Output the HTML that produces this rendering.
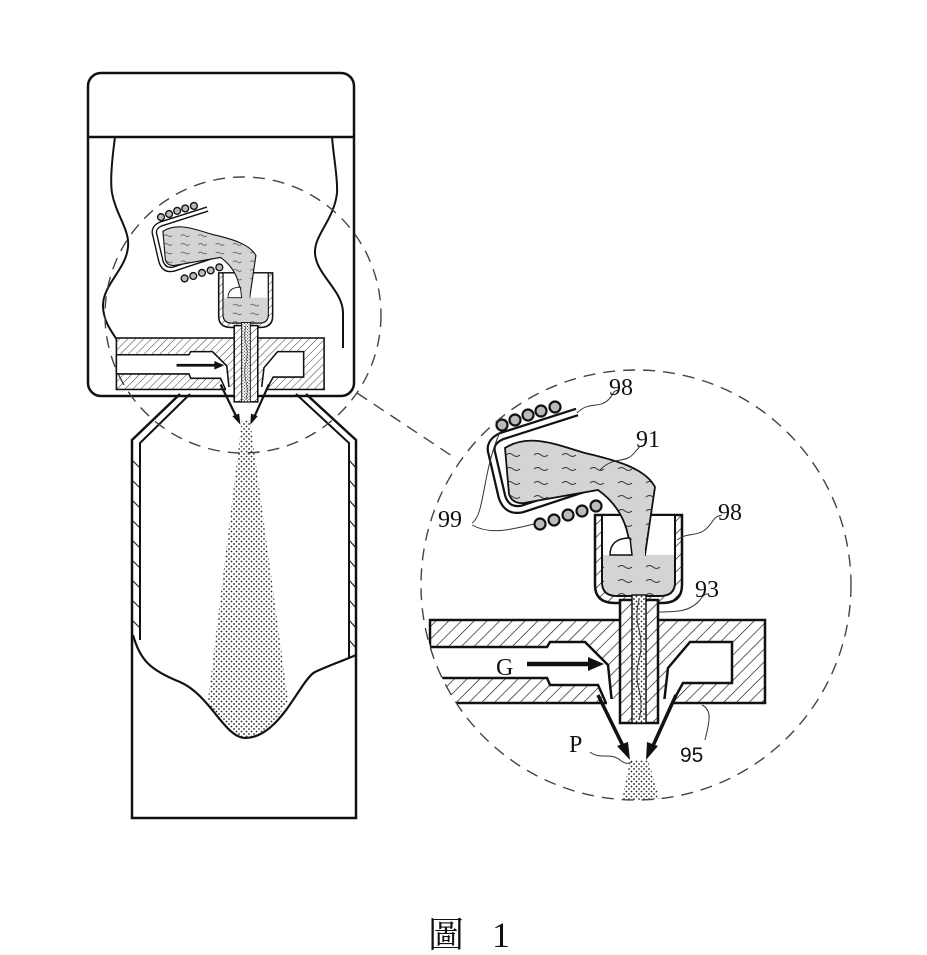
<!DOCTYPE html>
<html><head><meta charset="utf-8"><style>
html,body{margin:0;padding:0;background:#fff;}
svg{display:block;}
text{font-family:"Liberation Serif","Noto Serif CJK SC",serif;fill:#111;}
</style></head><body>
<svg width="927" height="955" viewBox="0 0 927 955" xmlns="http://www.w3.org/2000/svg">
<defs>
<pattern id="hatch" patternUnits="userSpaceOnUse" width="9" height="9" patternTransform="rotate(45)">
<rect width="9" height="9" fill="#fff"/><line x1="0" y1="0" x2="0" y2="9" stroke="#111" stroke-width="1.3"/>
</pattern>
<pattern id="dots" patternUnits="userSpaceOnUse" width="5" height="5">
<rect width="5" height="5" fill="#fff"/><circle cx="1.5" cy="1.5" r="0.9" fill="#222"/><circle cx="4" cy="4" r="0.9" fill="#222"/>
</pattern>
<pattern id="liq" patternUnits="userSpaceOnUse" width="28" height="14">
<rect width="28" height="14" fill="#d4d4d4"/>
<path d="M2 7 q3.5 -3 7 0 t7 0" fill="none" stroke="#333" stroke-width="0.9"/>
</pattern>
<clipPath id="bigc"><circle cx="636" cy="585" r="215"/></clipPath>
<g id="detail">
  <rect x="430" y="620" width="335" height="83" fill="url(#hatch)" stroke="#111" stroke-width="2.5"/>
  <polygon points="430,647 547,647 550,642 585,642 608,665 612,703 606,703 598,685 550,685 547,678 430,678" fill="#fff" stroke="#111" stroke-width="2.5"/>
  <polygon points="690,642 732,642 732,683 683,683 672,703 664,703 668,668" fill="#fff" stroke="#111" stroke-width="2.5"/>
  <rect x="607" y="699" width="64" height="8" fill="#fff"/>
  <path d="M595,515 V585 Q595,603 615,603 H662 Q682,603 682,585 V515 Z" fill="url(#hatch)" stroke="#111" stroke-width="2.5"/>
  <path d="M602,515 V582 Q602,596 617,596 H660 Q675,596 675,582 V515 Z" fill="#fff" stroke="#111" stroke-width="2"/>
  <path d="M603,555 H674 V582 Q674,595 660,595 H617 Q603,595 603,582 Z" fill="url(#liq)"/>
  <rect x="620" y="600" width="38" height="123" fill="url(#hatch)" stroke="#111" stroke-width="2.5"/>
  <rect x="632" y="595" width="14" height="128" fill="url(#dots)" stroke="#111" stroke-width="1.5"/>
  <path d="M639,600 q-4,15 0,30 t0,30 t0,30 t0,30" fill="none" stroke="#333" stroke-width="1"/>
  <path d="M577,412 L502,436 Q488,442 492,454 L502,497 Q507,512 522,509 L598,484" fill="none" stroke="#111" stroke-width="9"/>
  <path d="M577,412 L502,436 Q488,442 492,454 L502,497 Q507,512 522,509 L598,484" fill="none" stroke="#fff" stroke-width="4.5"/>
  <path d="M505,448 C530,432 560,446 585,453 C615,460 645,468 655,487 L645,555 L630,555 C630,530 622,507 598,490 L524,503 Q512,504 509,494 Z" fill="url(#liq)" stroke="#111" stroke-width="1.8"/>
  <rect x="630" y="548" width="15" height="10" fill="url(#liq)"/>
  <path d="M610,555 Q610,538 630,538 L632,555 Z" fill="#fff" stroke="#111" stroke-width="1.5"/>
  <g fill="#bbb" stroke="#111" stroke-width="2.2">
   <circle cx="502" cy="425" r="5.5"/><circle cx="515" cy="420" r="5.5"/><circle cx="528" cy="415" r="5.5"/><circle cx="541" cy="411" r="5.5"/><circle cx="555" cy="407" r="5.5"/>
   <circle cx="540" cy="524" r="5.5"/><circle cx="554" cy="520" r="5.5"/><circle cx="568" cy="515" r="5.5"/><circle cx="582" cy="511" r="5.5"/><circle cx="596" cy="506" r="5.5"/>
  </g>
  <line x1="598" y1="695" x2="624" y2="748" stroke="#111" stroke-width="3.5"/>
  <polygon points="630,760 617,746 628,742" fill="#111"/>
  <line x1="676" y1="695" x2="652" y2="748" stroke="#111" stroke-width="3.5"/>
  <polygon points="646,760 647,742 658,746" fill="#111"/>
  <line x1="527" y1="664" x2="590" y2="664" stroke="#111" stroke-width="4.5"/>
  <polygon points="604,664 588,657 588,671" fill="#111"/>
</g>
</defs>

<rect x="88" y="73" width="266" height="323" rx="13" fill="#fff" stroke="#111" stroke-width="2.5"/>
<line x1="88" y1="137" x2="354" y2="137" stroke="#111" stroke-width="2.5"/>
<path d="M115,137 C112,160 110,180 112,193 C116,215 130,230 128,247 C126,270 102,285 103,307 C104,325 115,335 120,345" fill="none" stroke="#111" stroke-width="2"/>
<path d="M332,137 C334,160 338,180 337,193 C334,220 314,235 315,253 C316,275 343,290 343,313 C343,330 343,340 343,348" fill="none" stroke="#111" stroke-width="2"/>

<path d="M180,394 L132,440 V818 H356 V440 L306,394" fill="none" stroke="#111" stroke-width="2.5"/>
<path d="M190,394 L140,443 V640" fill="none" stroke="#111" stroke-width="2"/>
<path d="M296,394 L349,443 V657" fill="none" stroke="#111" stroke-width="2"/>
<g stroke="#111" stroke-width="1">
<path d="M132,460 l8,8 M132,480 l8,8 M132,500 l8,8 M132,520 l8,8 M132,540 l8,8 M132,560 l8,8 M132,580 l8,8 M132,600 l8,8 M132,620 l8,8"/>
<path d="M349,460 l7,8 M349,480 l7,8 M349,500 l7,8 M349,520 l7,8 M349,540 l7,8 M349,560 l7,8 M349,580 l7,8 M349,600 l7,8 M349,620 l7,8 M349,640 l7,8"/>
</g>
<path d="M242,420 L250,420 L288,700 Q270,735 245,738 Q222,735 208,700 Z" fill="url(#dots)"/>
<path d="M133,635 C140,660 150,670 180,682 C210,695 225,738 245,738 C280,738 300,680 315,672 C330,665 345,660 356,655" fill="none" stroke="#111" stroke-width="2.2"/>

<g transform="translate(-150.2,-46.4) scale(0.62)">
  <use href="#detail"/>
</g>

<circle cx="243" cy="315" r="138" fill="none" stroke="#444" stroke-width="1.4" stroke-dasharray="12,8"/>
<line x1="357" y1="393" x2="455" y2="458" stroke="#444" stroke-width="1.4" stroke-dasharray="12,8"/>

<circle cx="636" cy="585" r="215" fill="#fff"/>
<g clip-path="url(#bigc)">
  <use href="#detail"/>
  <path d="M630,760 L648,760 L660,800 L622,800 Z" fill="url(#dots)"/>
</g>
<circle cx="636" cy="585" r="215" fill="none" stroke="#444" stroke-width="1.4" stroke-dasharray="12,8"/>

<g fill="none" stroke="#333" stroke-width="1">
<path d="M577,413 C590,400 600,410 610,398 C615,392 612,392 618,390"/>
<path d="M600,470 C615,455 625,465 635,452 C640,446 640,446 645,445"/>
<path d="M677,540 C690,530 700,540 712,522 C716,516 718,516 722,515"/>
<path d="M472,523 C485,515 482,472 500,432"/>
<path d="M472,525 C490,535 510,530 534,524"/>
<path d="M658,612 C675,612 690,612 700,600 C704,594 706,594 708,594"/>
<path d="M590,752 C600,760 610,752 620,760 C625,764 628,764 632,762"/>
<path d="M702,705 C712,710 710,720 705,740"/>
</g>

<text x="609" y="395" font-size="24">98</text>
<text x="636" y="447" font-size="24">91</text>
<text x="718" y="520" font-size="24">98</text>
<text x="438" y="527" font-size="24">99</text>
<text x="695" y="597" font-size="24">93</text>
<text x="496" y="675" font-size="24">G</text>
<text x="569" y="752" font-size="24">P</text>
<text x="680" y="762" font-size="21" style="font-family:'Liberation Sans',sans-serif">95</text>

<text x="428" y="947" font-size="36" style="font-family:'Liberation Serif','Noto Serif CJK SC',serif">圖</text>
<text x="492" y="947" font-size="36">1</text>
</svg>
</body></html>
